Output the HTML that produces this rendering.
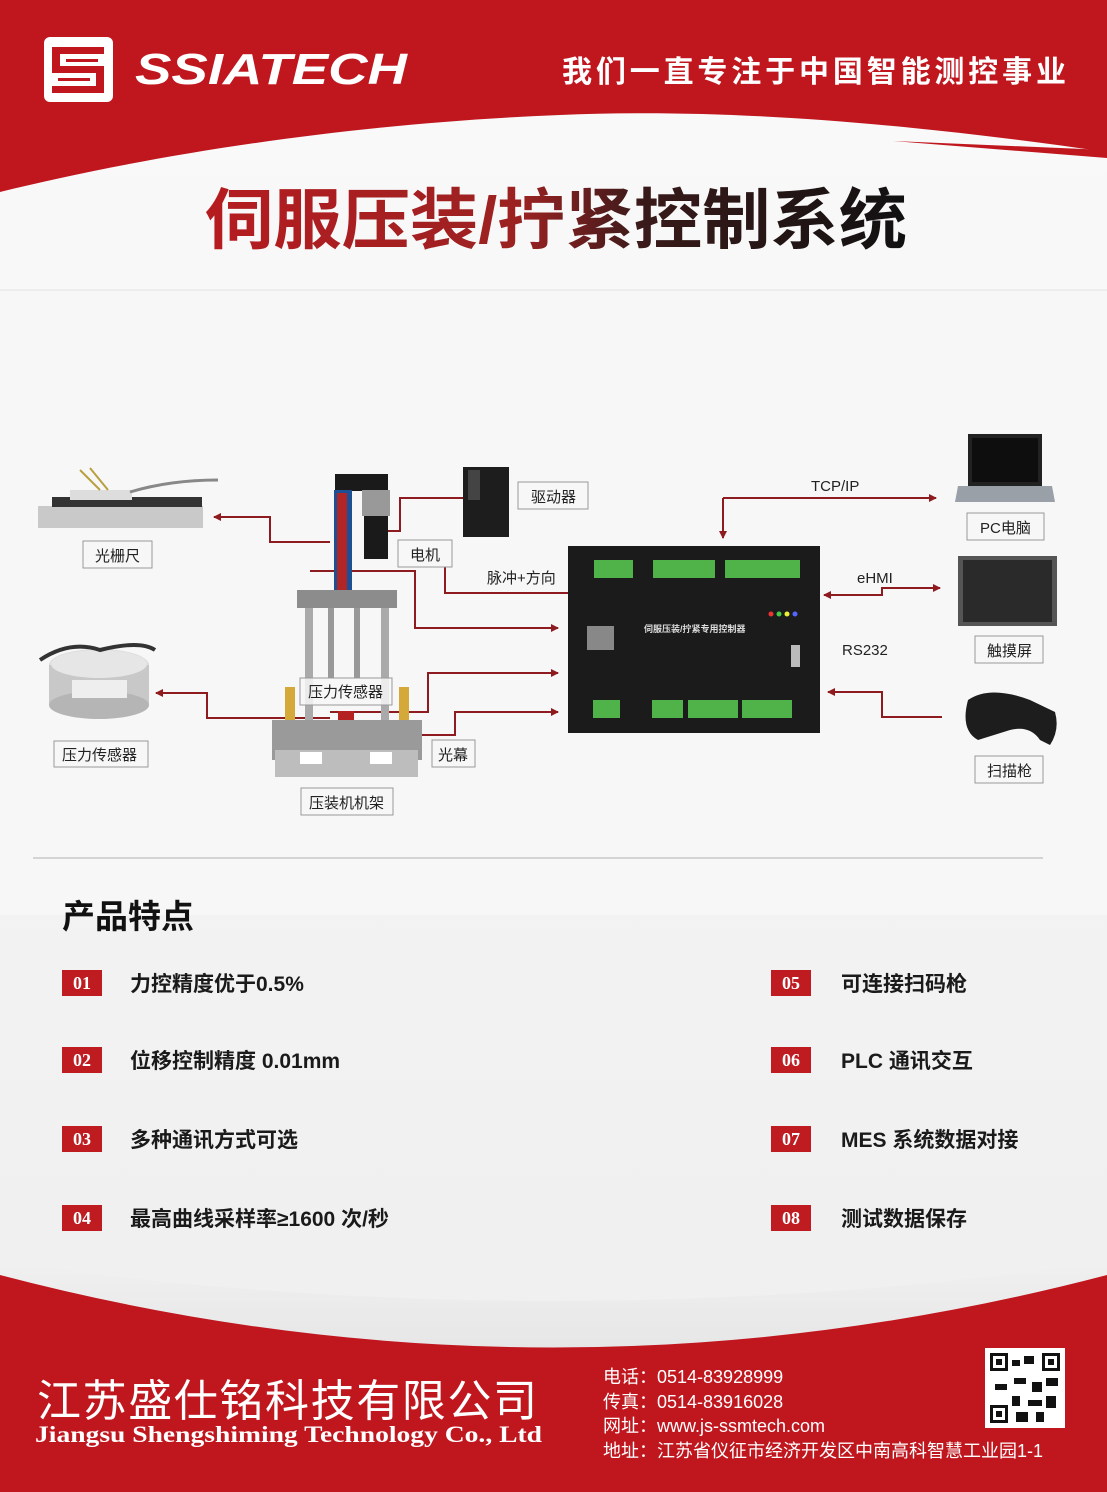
<!DOCTYPE html>
<html><head><meta charset="utf-8"><style>
html,body{margin:0;padding:0;width:1107px;height:1492px;overflow:hidden;background:#f2f2f2}
svg{display:block}
text{font-family:"Liberation Sans","Noto Sans CJK SC",sans-serif}
</style></head><body>
<svg width="1107" height="1492" viewBox="0 0 1107 1492" xmlns="http://www.w3.org/2000/svg">
<defs>
<linearGradient id="bg" x1="0" y1="0" x2="0" y2="1"><stop offset="0" stop-color="#fafafa"/><stop offset="1" stop-color="#eeeeee"/></linearGradient>
<linearGradient id="tg" x1="0" y1="0" x2="1" y2="0"><stop offset="0" stop-color="#b51c20"/><stop offset="0.45" stop-color="#9b2222"/><stop offset="0.62" stop-color="#3a1a1a"/><stop offset="1" stop-color="#111"/></linearGradient>
<marker id="ar" markerWidth="8" markerHeight="8" refX="7" refY="4" orient="auto" markerUnits="userSpaceOnUse"><path d="M0,0 L8,4 L0,8 Z" fill="#8e1b1f"/></marker>
<linearGradient id="fg" x1="0" y1="0" x2="0" y2="1"><stop offset="0" stop-color="#f0f0f0"/><stop offset="1" stop-color="#d6d6d6"/></linearGradient>
</defs>
<rect width="1107" height="1492" fill="url(#bg)"/>
<rect x="0" y="290" width="1107" height="625" fill="#f7f7f7"/>
<line x1="0" y1="290" x2="1107" y2="290" stroke="#e2e2e2"/>
<!-- header -->
<path d="M0,0 H1107 V152 C900,122 720,108 560,115 C330,124 130,160 0,192 Z" fill="#c0171f"/>
<path d="M893,141 L1107,150 L1107,158 Z" fill="#c0171f"/>
<!-- logo -->
<rect x="44" y="37" width="69" height="65" rx="6" fill="#fff"/>
<path d="M52,47 H104 V54 H60 V66 H104 V93 H52 V86 H96 V73 H52 Z" fill="#c0171f"/>
<path d="M66,59 H98 V62 H66 Z M58,78 H90 V81 H58 Z" fill="#c0171f"/>
<text x="135" y="84" font-size="44" font-weight="bold" font-style="italic" fill="#fff" textLength="272" lengthAdjust="spacingAndGlyphs">SSIATECH</text>
<text x="562" y="82" font-size="30" font-weight="bold" fill="#fff" textLength="504" lengthAdjust="spacing">我们一直专注于中国智能测控事业</text>
<text x="205" y="243" font-size="66" font-weight="bold" fill="url(#tg)" textLength="702" lengthAdjust="spacingAndGlyphs">伺服压装/拧紧控制系统</text>

<!-- connectors -->
<g stroke="#8e1b1f" stroke-width="2" fill="none">
<polyline points="330,542 270,542 270,517 214,517" marker-end="url(#ar)"/>
<polyline points="465,498 400,498 400,531 372,531" marker-end="url(#ar)"/>
<polyline points="568,593 445,593 445,549" marker-end="url(#ar)"/>
<polyline points="310,571 415,571 415,628 558,628" marker-end="url(#ar)"/>
<polyline points="330,718 207,718 207,693 156,693" marker-end="url(#ar)"/>
<polyline points="330,712 428,712 428,673 558,673" marker-end="url(#ar)"/>
<polyline points="390,735 455,735 455,712 558,712" marker-end="url(#ar)"/>
<polyline points="723,498 936,498" marker-end="url(#ar)"/>
<polyline points="723,498 723,538" marker-end="url(#ar)"/>
<polyline points="940,588 882,588 882,595 824,595" marker-end="url(#ar)"/>
<polyline points="882,588 940,588" marker-end="url(#ar)"/>
<polyline points="942,717 882,717 882,692 828,692" marker-end="url(#ar)"/>
</g>

<!-- linear scale -->
<rect x="38" y="506" width="165" height="22" fill="#c9c9c9"/>
<rect x="52" y="497" width="150" height="10" fill="#333"/>
<rect x="70" y="490" width="62" height="10" fill="#ddd"/>
<path d="M130,492 Q170,480 218,480" stroke="#888" stroke-width="3" fill="none"/>
<path d="M80,470 L100,490 M90,468 L108,490" stroke="#b8a040" stroke-width="2"/>
<!-- load cell -->
<ellipse cx="99" cy="665" rx="50" ry="16" fill="#ddd"/>
<rect x="49" y="665" width="100" height="40" fill="#c8c8c8"/>
<ellipse cx="99" cy="705" rx="50" ry="14" fill="#b5b5b5"/>
<ellipse cx="99" cy="664" rx="48" ry="14" fill="#e6e6e6"/>
<path d="M40,660 Q70,640 100,650 Q140,640 155,650" stroke="#333" stroke-width="4" fill="none"/>
<rect x="72" y="680" width="55" height="18" fill="#eee"/>
<!-- driver -->
<rect x="463" y="467" width="46" height="70" fill="#1d1d1d"/>
<rect x="468" y="470" width="12" height="30" fill="#444"/>
<!-- press frame -->
<rect x="335" y="474" width="53" height="17" fill="#1a1a1a"/>
<rect x="334" y="490" width="18" height="116" fill="#1d4f95"/>
<rect x="337" y="493" width="10" height="100" fill="#b02525"/>
<rect x="362" y="490" width="28" height="26" fill="#999"/>
<rect x="364" y="516" width="24" height="43" fill="#1a1a1a"/>
<rect x="297" y="590" width="100" height="18" fill="#8c8c8c"/>
<rect x="305" y="608" width="8" height="120" fill="#aaa"/>
<rect x="381" y="608" width="8" height="120" fill="#aaa"/>
<rect x="328" y="608" width="6" height="70" fill="#999"/>
<rect x="354" y="608" width="6" height="70" fill="#999"/>
<rect x="285" y="687" width="10" height="70" fill="#d4a93a"/>
<rect x="399" y="687" width="10" height="70" fill="#d4a93a"/>
<rect x="338" y="711" width="16" height="10" fill="#b52020"/>
<rect x="272" y="720" width="150" height="40" fill="#9a9a9a"/>
<rect x="275" y="750" width="143" height="27" fill="#bdbdbd"/>
<rect x="300" y="752" width="22" height="12" fill="#fff"/>
<rect x="370" y="752" width="22" height="12" fill="#fff"/>
<!-- laptop -->
<rect x="968" y="434" width="74" height="52" fill="#222"/>
<rect x="972" y="438" width="66" height="44" fill="#0e0e0e"/>
<path d="M958,486 H1052 L1055,502 H955 Z" fill="#9aa0a8"/>
<!-- touch screen -->
<rect x="958" y="556" width="99" height="70" fill="#555"/>
<rect x="963" y="560" width="89" height="62" fill="#2a2a2a"/>
<!-- scanner -->
<path d="M968,700 Q990,685 1030,700 L1055,712 Q1060,730 1050,745 L1040,740 Q1030,725 1010,730 L978,740 Q960,730 968,700 Z" fill="#1d1d1d"/>

<!-- controller -->
<rect x="568" y="546" width="252" height="187" fill="#1b1b1b"/>
<g fill="#4fb34a">
<rect x="594" y="560" width="39" height="18"/>
<rect x="653" y="560" width="62" height="18"/>
<rect x="725" y="560" width="75" height="18"/>
<rect x="593" y="700" width="27" height="18"/>
<rect x="652" y="700" width="31" height="18"/>
<rect x="688" y="700" width="50" height="18"/>
<rect x="742" y="700" width="50" height="18"/>
</g>
<rect x="587" y="626" width="27" height="24" fill="#888"/>
<text x="644" y="632" font-size="9" font-weight="bold" fill="#ddd">伺服压装/拧紧专用控制器</text>
<circle cx="771" cy="614" r="2.5" fill="#e33"/><circle cx="779" cy="614" r="2.5" fill="#4c4"/><circle cx="787" cy="614" r="2.5" fill="#ee3"/><circle cx="795" cy="614" r="2.5" fill="#56f"/>
<rect x="791" y="645" width="9" height="22" fill="#bbb"/>

<!-- labels -->
<g fill="#f7f7f7" stroke="#999" stroke-width="1">
<rect x="83" y="541" width="69" height="27"/>
<rect x="518" y="482" width="70" height="27"/>
<rect x="398" y="540" width="54" height="27"/>
<rect x="54" y="741" width="94" height="26"/>
<rect x="300" y="678" width="92" height="27" fill-opacity="0.85"/>
<rect x="432" y="740" width="43" height="27"/>
<rect x="301" y="788" width="92" height="27"/>
<rect x="967" y="513" width="77" height="27"/>
<rect x="975" y="636" width="68" height="27"/>
<rect x="975" y="756" width="68" height="27"/>
</g>
<g font-size="15" fill="#222">
<text x="95" y="561">光栅尺</text>
<text x="531" y="502">驱动器</text>
<text x="410" y="560">电机</text>
<text x="487" y="583">脉冲+方向</text>
<text x="62" y="760">压力传感器</text>
<text x="308" y="697">压力传感器</text>
<text x="438" y="760">光幕</text>
<text x="309" y="808">压装机机架</text>
<text x="980" y="533">PC电脑</text>
<text x="987" y="656">触摸屏</text>
<text x="987" y="776">扫描枪</text>
<text x="811" y="491">TCP/IP</text>
<text x="857" y="583">eHMI</text>
<text x="842" y="655">RS232</text>
</g>
<line x1="33" y1="858" x2="1043" y2="858" stroke="#c8c8c8" stroke-width="1.5"/>

<!-- features -->
<text x="62" y="928" font-size="33" font-weight="bold" fill="#111">产品特点</text>
<g fill="#bf1c22">
<rect x="62" y="970" width="40" height="26"/><rect x="62" y="1047" width="40" height="26"/><rect x="62" y="1126" width="40" height="26"/><rect x="62" y="1205" width="40" height="26"/>
<rect x="771" y="970" width="40" height="26"/><rect x="771" y="1047" width="40" height="26"/><rect x="771" y="1126" width="40" height="26"/><rect x="771" y="1205" width="40" height="26"/>
</g>
<g font-family="Liberation Serif,serif" font-size="18" font-weight="bold" fill="#fff" text-anchor="middle">
<text x="82" y="989" style="font-family:'Liberation Serif',serif">01</text><text x="82" y="1066" style="font-family:'Liberation Serif',serif">02</text><text x="82" y="1145" style="font-family:'Liberation Serif',serif">03</text><text x="82" y="1224" style="font-family:'Liberation Serif',serif">04</text>
<text x="791" y="989" style="font-family:'Liberation Serif',serif">05</text><text x="791" y="1066" style="font-family:'Liberation Serif',serif">06</text><text x="791" y="1145" style="font-family:'Liberation Serif',serif">07</text><text x="791" y="1224" style="font-family:'Liberation Serif',serif">08</text>
</g>
<g font-size="21" font-weight="bold" fill="#1a1a1a">
<text x="130" y="991">力控精度优于0.5%</text>
<text x="130" y="1068">位移控制精度 0.01mm</text>
<text x="130" y="1147">多种通讯方式可选</text>
<text x="130" y="1226">最高曲线采样率≥1600 次/秒</text>
<text x="841" y="991">可连接扫码枪</text>
<text x="841" y="1068">PLC 通讯交互</text>
<text x="841" y="1147">MES 系统数据对接</text>
<text x="841" y="1226">测试数据保存</text>
</g>

<!-- footer -->
<path d="M0,1262 Q553,1340 1107,1262 V1492 H0 Z" fill="url(#fg)"/>
<path d="M0,1275 Q553,1420 1107,1275 V1492 H0 Z" fill="#c0171f"/>
<text x="37" y="1416" font-size="44" fill="#fff" textLength="500" lengthAdjust="spacing">江苏盛仕铭科技有限公司</text>
<text x="35" y="1442" font-size="23" font-weight="bold" fill="#fff" style="font-family:'Liberation Serif',serif" textLength="507" lengthAdjust="spacingAndGlyphs">Jiangsu Shengshiming Technology Co., Ltd</text>
<g font-size="18" fill="#fff">
<text x="603" y="1383">电话：0514-83928999</text>
<text x="603" y="1408">传真：0514-83916028</text>
<text x="603" y="1432">网址：www.js-ssmtech.com</text>
<text x="603" y="1457">地址：江苏省仪征市经济开发区中南高科智慧工业园1-1</text>
</g>
<rect x="985" y="1348" width="80" height="80" fill="#fff"/>
<g fill="#111">
<rect x="990" y="1353" width="18" height="18"/><rect x="1042" y="1353" width="18" height="18"/><rect x="990" y="1405" width="18" height="18"/>
<rect x="1012" y="1360" width="8" height="6"/><rect x="1024" y="1356" width="10" height="8"/><rect x="1014" y="1378" width="12" height="6"/><rect x="1032" y="1382" width="10" height="10"/><rect x="1046" y="1378" width="12" height="8"/><rect x="1012" y="1396" width="8" height="10"/><rect x="1028" y="1400" width="14" height="6"/><rect x="1046" y="1396" width="10" height="12"/><rect x="1016" y="1412" width="12" height="10"/><rect x="1036" y="1412" width="8" height="10"/><rect x="995" y="1384" width="12" height="6"/>
</g>
<g fill="#fff"><rect x="993" y="1356" width="12" height="12"/><rect x="1045" y="1356" width="12" height="12"/><rect x="993" y="1408" width="12" height="12"/></g>
<g fill="#111"><rect x="996" y="1359" width="6" height="6"/><rect x="1048" y="1359" width="6" height="6"/><rect x="996" y="1411" width="6" height="6"/></g>
</svg>
</body></html>
